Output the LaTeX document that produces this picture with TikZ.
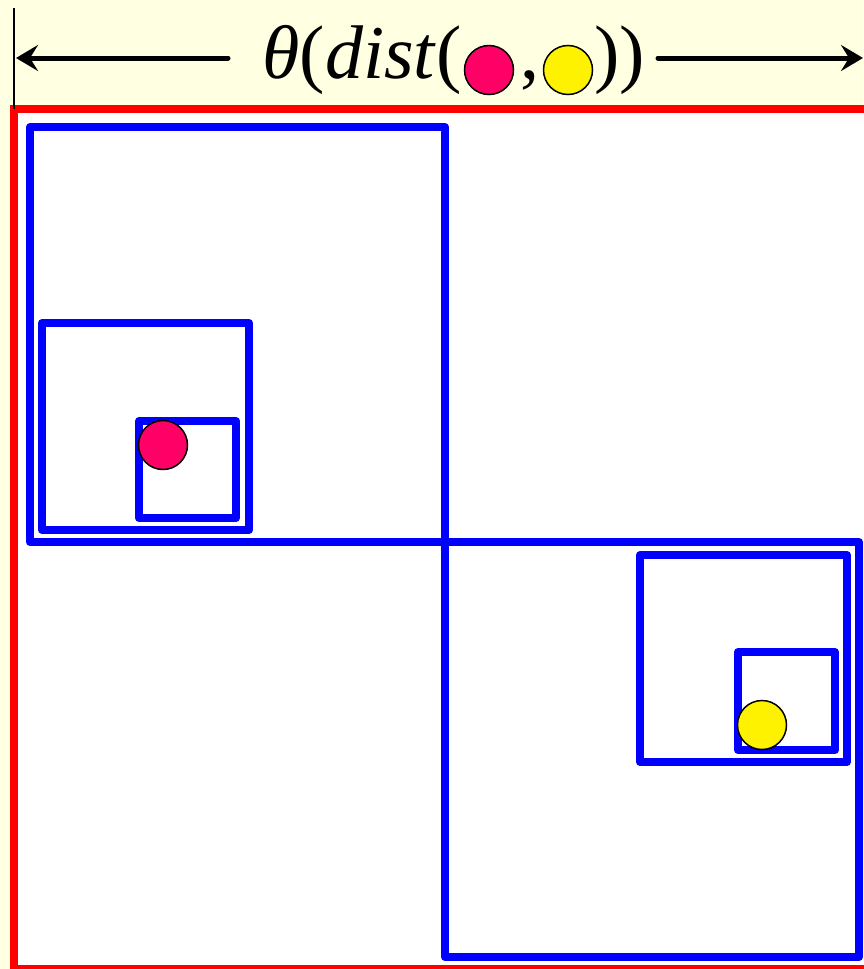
\documentclass[tikz,border=0pt]{standalone}
\usepackage{fontspec}
\setmainfont{Liberation Serif}
\usetikzlibrary{arrows.meta,positioning}
\definecolor{paper}{RGB}{255,255,225}
\definecolor{pinkdot}{RGB}{255,0,102}
\definecolor{quadblue}{RGB}{0,0,255}

\begin{document}
\begin{tikzpicture}[x=0.5pt,y=-0.5pt,>={Stealth[length=11pt,width=13pt,inset=4pt]},
  q/.style={draw=quadblue,line width=4pt,line join=round},
  dot/.style={circle,draw=black,line width=0.75pt,minimum size=24.5pt,inner sep=0pt},
  hd/.style={font=\fontsize{38}{42}\selectfont,inner sep=0pt}]
% page and outer cell
\useasboundingbox (0,0) rectangle (863,969);
\fill[paper] (0,0) rectangle (863,969);
\draw[red,line width=4pt,fill=white] (14,109) rectangle (874,969);
% quadtree cells
\draw[q] (30,127) rectangle (445,542);
\draw[q] (445,542) rectangle (859,957);
\draw[q] (42,323) rectangle (249,530);
\draw[q] (139,421) rectangle (236,518);
\draw[q] (640,555) rectangle (847,762);
\draw[q] (738,652) rectangle (835,750);
% the two points
\node[dot,fill=pinkdot] (pp) at (163,445) {};
\node[dot,fill=yellow] (ps) at (762,725) {};
% distance label
\node[hd,anchor=base west] (lab) at (262,78) {\textit{θ}(\textit{dist}(};
\node[dot,fill=pinkdot] (lp) at (489,70) {};
\node[hd,anchor=base] (cm) at (530,78) {,};
\node[dot,fill=yellow] (ls) at (568,70) {};
\node[hd,anchor=base west] (rp) at (594,78) {))};
\coordinate (l1) at (228,58); \coordinate (l0) at (16,58);
\coordinate (r1) at (658,58); \coordinate (r0) at (863,58);
\coordinate (t0) at (14,8); \coordinate (t1) at (14,109);
\draw[line width=2.5pt,line cap=round,->] (l1) -- (l0);
\draw[line width=2.5pt,line cap=round,->] (r1) -- (r0);
\draw[line width=0.75pt] (t0) -- (t1);
\end{tikzpicture}
\end{document}
